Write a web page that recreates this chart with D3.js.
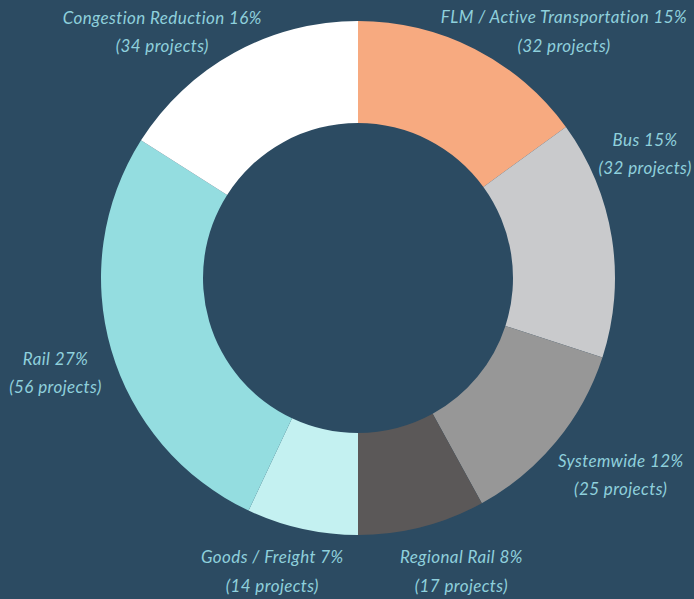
<!DOCTYPE html>
<html>
<head>
<meta charset="utf-8">
<script src="https://cdn.jsdelivr.net/npm/d3@7"></script>
<style>
  html, body { margin: 0; padding: 0; background: #2c4b62; }
  svg { display: block; }
</style>
</head>
<body>
<div id="chart"></div>
<script>
// data, clockwise from 12 o'clock
const categories = ["FLM / Active Transportation", "Bus", "Systemwide", "Regional Rail", "Goods / Freight", "Rail", "Congestion Reduction"];
const projects = [32, 32, 25, 17, 14, 56, 34];
const percents = [15, 15, 12, 8, 7, 27, 16];
const colors = ["#f7aa80", "#c9cacc", "#979797", "#5b5858", "#c4f1f1", "#94dde0", "#ffffff"];

const width = 694;
const height = 599;
const cx = 358, cy = 278;
const outerR = 257, innerR = 155;
const labelR = 315;

// hand-placed label nudges (the original labels are not on a single radius)
const nudge = {
    "FLM / Active Transportation": [63, 40],
    "Bus": [-24, -69],
    "Systemwide": [20, 2],
    "Regional Rail": [25, -6],
    "Goods / Freight": [-17, -8],
    "Rail": [0, 13],
    "Congestion Reduction": [-44, 36]
};

const data = categories.map((c, i) => ({ name: c, value: projects[i], pct: percents[i], color: colors[i] }));

const svg = d3.select("#chart")
    .append("svg")
    .attr("width", width)
    .attr("height", height);

svg.append("rect")
    .attr("width", width)
    .attr("height", height)
    .attr("fill", "#2c4b62");

const g = svg.append("g")
    .attr("transform", `translate(${cx},${cy})`);

// slices are sized by the rounded percentage
const pie = d3.pie()
    .value(d => d.pct)
    .sort(null);

const arc = d3.arc()
    .innerRadius(innerR)
    .outerRadius(outerR);

const labelArc = d3.arc()
    .innerRadius(labelR)
    .outerRadius(labelR);

const arcs = pie(data);

g.selectAll("path")
    .data(arcs)
    .join("path")
    .attr("d", arc)
    .attr("fill", d => d.data.color);

// labels
const labels = g.selectAll("text")
    .data(arcs)
    .join("text")
    .attr("transform", d => {
        const [x, y] = labelArc.centroid(d);
        const [dx, dy] = nudge[d.data.name];
        return `translate(${x + dx},${y + dy})`;
    })
    .attr("text-anchor", "middle")
    .style("font-family", "Lato, 'Open Sans', sans-serif")
    .style("font-style", "italic")
    .style("font-size", "17px")
    .style("letter-spacing", "0.4px")
    .style("fill", "#8fd0dc");

labels.append("tspan")
    .attr("x", 0)
    .attr("y", -14)
    .text(d => `${d.data.name} ${d.data.pct}%`);

labels.append("tspan")
    .attr("x", 0)
    .attr("y", 14.5)
    .text(d => `(${d.data.value} projects)`);
</script>
</body>
</html>
